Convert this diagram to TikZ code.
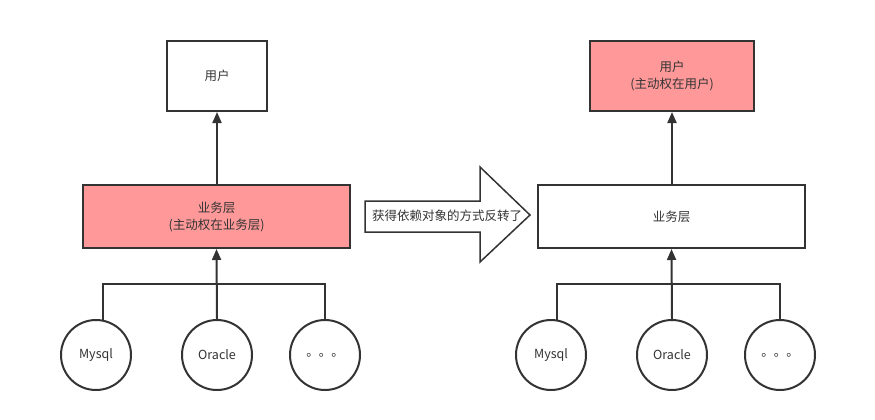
\documentclass[tikz,border=0pt]{standalone}
\usepackage{fontspec}
\setmainfont{Noto Sans CJK SC}
\usetikzlibrary{arrows.meta}
\definecolor{stroke}{HTML}{333333}
\definecolor{pinkfill}{HTML}{FF9999}
\begin{document}
\begin{tikzpicture}[x=1pt,y=-1pt,
  every node/.style={font=\fontsize{12.5}{17}\selectfont, text=stroke, align=center},
  box/.style={draw=stroke, line width=2pt, rectangle, inner sep=0pt},
  db/.style={draw=stroke, line width=2pt, circle, fill=white, minimum size=70pt, inner sep=0pt},
  link/.style={draw=stroke, line width=2pt},
  arr/.style={link, -{Triangle[length=11pt,width=9pt]}}
]
\useasboundingbox (0,0) rectangle (875,420);
% left side
\node[box, minimum width=100pt, minimum height=70pt] (userL) at (217,76) {用户};
\node[box, fill=pinkfill, minimum width=267pt, minimum height=63pt] (bizL) at (216.5,216.5) {业务层\\(主动权在业务层)};
\node[db] (mysqlL) at (96,355) {Mysql};
\node[db] (oracleL) at (217,355) {Oracle};
\node[db] (dotsL) at (325,355) {。。。};
\coordinate (busL) at (217,284);
\draw[link] (mysqlL.78.5) |- (dotsL.north |- busL) -- (dotsL.north);
\draw[arr] (oracleL.north) -- (bizL.south);
\draw[arr] (bizL.north -| userL.south) -- (userL.south);
% big arrow
\draw[draw=stroke, line width=1.5pt, fill=white]
  (365,201) -- (480,201) -- (480,167) -- (530,215) -- (480,262) -- (480,232) -- (365,232) -- cycle;
\node[inner sep=0pt] (bigtext) at (447,216) {获得依赖对象的方式反转了};
% right side
\node[box, fill=pinkfill, minimum width=164pt, minimum height=70pt] (userR) at (672,76) {用户\\(主动权在用户)};
\node[box, minimum width=267pt, minimum height=63pt] (bizR) at (671.5,216.5) {业务层};
\node[db] (mysqlR) at (551,355) {Mysql};
\node[db] (oracleR) at (672,355) {Oracle};
\node[db] (dotsR) at (780,355) {。。。};
\coordinate (busR) at (672,284);
\draw[link] (mysqlR.80) |- (dotsR.north |- busR) -- (dotsR.north);
\draw[arr] (oracleR.north) -- (bizR.south);
\draw[arr] (bizR.north -| userR.south) -- (userR.south);
\end{tikzpicture}
\end{document}
